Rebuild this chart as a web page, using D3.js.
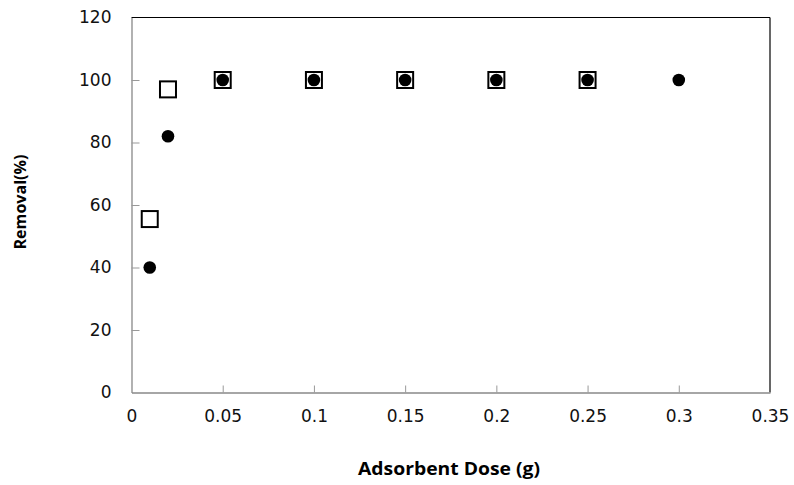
<!DOCTYPE html>
<html><head><meta charset="utf-8">
<script src="https://cdn.jsdelivr.net/npm/d3@7"></script>
<style>body{margin:0;background:#fff}</style>
</head><body>
<script>
const squareX = [0.01, 0.02, 0.05, 0.1, 0.15, 0.2, 0.25];
const squareY = [55.5, 97, 100, 100, 100, 100, 100];
const circleX = [0.01, 0.02, 0.05, 0.1, 0.15, 0.2, 0.25, 0.3];
const circleY = [40, 82, 100, 100, 100, 100, 100, 100];
const xTicks = [0, 0.05, 0.1, 0.15, 0.2, 0.25, 0.3, 0.35];
const yTicks = [0, 20, 40, 60, 80, 100, 120];
const xTitle = "Adsorbent Dose (g)";
const yTitle = "Removal(%)";

const W = 794, H = 485;
const L = 131.5, R = 770, T = 17.5, B = 392.5;
const svg = d3.select("body").append("svg").attr("width", W).attr("height", H);
const x = d3.scaleLinear().domain([0, 0.35]).range([L, R]);
const y = d3.scaleLinear().domain([0, 120]).range([B, T]);

// frame top/right black
svg.append("line").attr("x1", L).attr("x2", R).attr("y1", T).attr("y2", T).attr("stroke", "#000").attr("stroke-width", 1.2);
svg.append("line").attr("x1", R).attr("x2", R).attr("y1", T).attr("y2", B).attr("stroke", "#000").attr("stroke-width", 1.2);

const xAxis = d3.axisBottom(x).tickValues(xTicks).tickSizeInner(-7).tickSizeOuter(0).tickPadding(17.5)
  .tickFormat(d => d === 0 ? "0" : String(d));
const gx = svg.append("g").attr("transform", `translate(0,${B})`).call(xAxis);
const yAxis = d3.axisLeft(y).tickValues(yTicks).tickSizeInner(-8).tickSizeOuter(0).tickPadding(20);
const gy = svg.append("g").attr("transform", `translate(${L},0)`).call(yAxis);
[gx, gy].forEach(g => {
  g.select(".domain").attr("stroke", "#888").attr("stroke-width", 1.3);
  g.selectAll(".tick line").attr("stroke", "#999").attr("stroke-width", 1);
  g.selectAll(".tick text").attr("font-family", "DejaVu Sans").attr("font-size", 17).attr("fill", "#111");
});
gy.selectAll(".tick text").attr("x", -20);
gx.selectAll(".tick line").filter(d => d === 0 || d === 0.35).remove();
gy.selectAll(".tick line").filter(d => d === 0 || d === 120).remove();

// squares
const s = 16;
svg.append("g").selectAll("rect").data(squareX.map((v, i) => [v, squareY[i]])).join("rect")
  .attr("x", d => x(d[0]) - s / 2).attr("y", d => y(d[1]) - s / 2)
  .attr("width", s).attr("height", s)
  .attr("fill", "#fff").attr("stroke", "#000").attr("stroke-width", 2);
// circles
svg.append("g").selectAll("circle").data(circleX.map((v, i) => [v, circleY[i]])).join("circle")
  .attr("cx", d => x(d[0])).attr("cy", d => y(d[1])).attr("r", 6.3).attr("fill", "#000");

svg.append("text").attr("x", 449).attr("y", 475).attr("text-anchor", "middle")
  .attr("font-family", "Open Sans").attr("font-weight", "bold").attr("font-size", 17)
  .attr("textLength", 182).attr("lengthAdjust", "spacingAndGlyphs").text(xTitle);
svg.append("text").attr("transform", `translate(26,${(T + B) / 2 - 3}) rotate(-90)`).attr("text-anchor", "middle")
  .attr("font-family", "Open Sans").attr("font-weight", "bold").attr("font-size", 16.5)
  .attr("textLength", 95).attr("lengthAdjust", "spacingAndGlyphs").text(yTitle);
</script>
</body></html>
